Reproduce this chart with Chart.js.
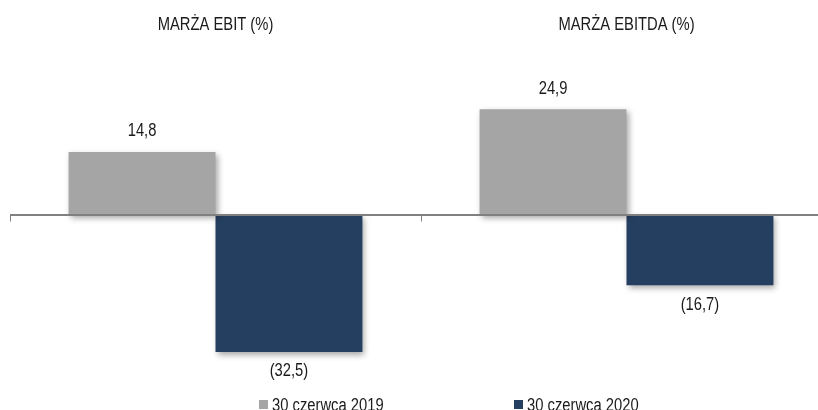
<!DOCTYPE html>
<html><head><meta charset="utf-8">
<script src="https://cdn.jsdelivr.net/npm/chart.js@4"></script>
<style>
html,body{margin:0;padding:0;overflow:hidden;background:#fff;width:818px;height:410px}
#wrap{width:832px;height:410px;position:relative}
canvas{display:block}
</style></head>
<body><div id="wrap"><canvas id="c" width="832" height="410"></canvas></div>
<script>
// ---- data ----
const categories = ['MARŻA EBIT (%)', 'MARŻA EBITDA (%)'];
const seriesLabels = ['30 czerwca 2019', '30 czerwca 2020'];
const values2019 = [14.8, 24.9];
const values2020 = [-32.5, -16.7];
const seriesColors = ['#A5A5A5', '#253F60'];
const yMin = -40, yMax = 40;

// ---- font helpers ----
function fontAvailable(name){
  const cv=document.createElement('canvas').getContext('2d');
  cv.font="40px monospace"; const a=cv.measureText('MARŻA EBIT 0123').width;
  cv.font="40px '"+name+"', monospace"; const b=cv.measureText('MARŻA EBIT 0123').width;
  return Math.abs(a-b)>0.5;
}
const hasNarrow = fontAvailable('Liberation Sans Narrow');
function drawText(ctx, text, x, y, size, align){
  ctx.save();
  ctx.fillStyle='#1a1a1a';
  ctx.textAlign=align||'center';
  ctx.textBaseline='alphabetic';
  if(hasNarrow){
    ctx.font=size+"px 'Liberation Sans Narrow'";
    ctx.fillText(text,x,y);
  } else {
    ctx.font=size+"px 'Liberation Sans', Arial, sans-serif";
    ctx.translate(x,y); ctx.scale(0.82,1);
    ctx.fillText(text,0,0);
  }
  ctx.restore();
}
function fmt(v){
  const s=Math.abs(v).toFixed(1).replace('.',',');
  return v<0?'('+s+')':s;
}

const decor = {
  id:'decor',
  beforeDatasetsDraw(chart){
    const ctx=chart.ctx; ctx.save();
    ctx.shadowColor='rgba(0,0,0,0.35)';
    ctx.shadowBlur=6; ctx.shadowOffsetX=2; ctx.shadowOffsetY=3;
  },
  afterDatasetsDraw(chart){
    const ctx=chart.ctx; ctx.restore();
    const xs=chart.scales.x, ys=chart.scales.y, ca=chart.chartArea;
    const y0=ys.getPixelForValue(0);
    // axis line
    ctx.save();
    ctx.strokeStyle='#808080'; ctx.lineWidth=2;
    ctx.beginPath(); ctx.moveTo(ca.left,y0+0.5); ctx.lineTo(ca.right,y0+0.5); ctx.stroke();
    ctx.lineWidth=1;
    const cw=(ca.right-ca.left)/categories.length;
    for(let i=0;i<=categories.length;i++){
      const x=Math.round(xs.getPixelForValue(Math.min(i,categories.length-1)) + (i<categories.length?-cw/2:cw/2))+0.5;
      ctx.beginPath(); ctx.moveTo(x,y0+1); ctx.lineTo(x,y0+7); ctx.stroke();
    }
    ctx.restore();
    // category titles
    categories.forEach((c,i)=>drawText(ctx,c,xs.getPixelForValue(i),30,18,'center'));
    // value labels
    chart.data.datasets.forEach((ds,di)=>{
      const meta=chart.getDatasetMeta(di);
      meta.data.forEach((bar,i)=>{
        const v=ds.data[i];
        if(v>=0) drawText(ctx,fmt(v),bar.x,bar.y-15.5,18,'center');
        else drawText(ctx,fmt(v),bar.x,bar.y+24.5,18,'center');
      });
    });
    // legend
    const legendX=[259,514];
    chart.data.datasets.forEach((ds,di)=>{
      ctx.fillStyle=ds.backgroundColor;
      ctx.fillRect(legendX[di],400,9,9);
      drawText(ctx,ds.label,legendX[di]+13,411,18,'left');
    });
  }
};

new Chart(document.getElementById('c'),{
  type:'bar',
  data:{
    labels:categories,
    datasets:[
      {label:seriesLabels[0],data:values2019,backgroundColor:seriesColors[0]},
      {label:seriesLabels[1],data:values2020,backgroundColor:seriesColors[1]}
    ]
  },
  options:{
    responsive:false,
    animation:false,
    layout:{padding:{left:10,right:0,top:45.3,bottom:26.3}},
    datasets:{bar:{barPercentage:1,categoryPercentage:0.715,borderWidth:0}},
    plugins:{legend:{display:false},tooltip:{enabled:false}},
    scales:{
      x:{display:false,offset:true},
      y:{display:false,min:yMin,max:yMax}
    }
  },
  plugins:[decor]
});
</script>
</body></html>
